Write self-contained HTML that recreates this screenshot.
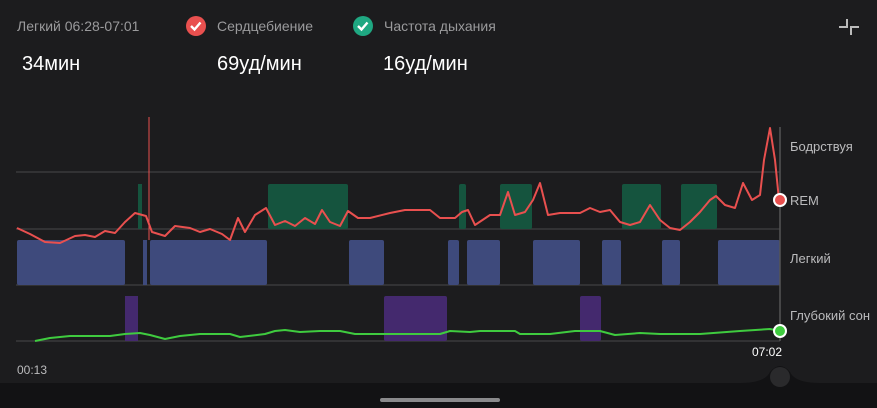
<!DOCTYPE html>
<html><head><meta charset="utf-8"><style>
body{margin:0;width:877px;height:408px;background:#1c1c1e;overflow:hidden;font-family:"Liberation Sans",sans-serif}
svg{position:absolute;left:0;top:0}
</style></head><body>
<svg width="877" height="408" viewBox="0 0 877 408" font-family="Liberation Sans, sans-serif">
<rect width="877" height="408" fill="#1c1c1e"/>
<text x="17" y="31" fill="#9a9a9c" font-size="14">Легкий  06:28-07:01</text>
<circle cx="196" cy="26" r="10" fill="#e9504f"/>
<path d="M191 26 l3.5 3.5 l6 -7" stroke="#fff" stroke-width="2.4" fill="none"/>
<text x="217" y="31" fill="#9a9a9c" font-size="14">Сердцебиение</text>
<circle cx="363" cy="26" r="10" fill="#1fa882"/>
<path d="M358 26 l3.5 3.5 l6 -7" stroke="#fff" stroke-width="2.4" fill="none"/>
<text x="384" y="31" fill="#9a9a9c" font-size="14">Частота дыхания</text>
<text x="22" y="70" fill="#fff" font-size="20">34мин</text>
<text x="217" y="70" fill="#fff" font-size="20">69уд/мин</text>
<text x="383" y="70" fill="#fff" font-size="20">16уд/мин</text>
<path d="M839 27 h8 v-8 M851 35 v-8 h8" stroke="#bbb" stroke-width="2" fill="none"/>
<g stroke="#3a3a3c" stroke-width="1.5"><line x1="16" y1="172" x2="780" y2="172"/><line x1="16" y1="229" x2="780" y2="229"/><line x1="16" y1="285" x2="780" y2="285"/><line x1="16" y1="341" x2="780" y2="341"/></g>
<g fill="#3e4a7c">
<rect x="17" y="240" width="108" height="45" rx="2"/><rect x="143" y="240" width="4" height="45"/><rect x="150" y="240" width="117" height="45" rx="2"/><rect x="349" y="240" width="35" height="45" rx="2"/><rect x="448" y="240" width="11" height="45" rx="2"/><rect x="467" y="240" width="33" height="45" rx="2"/><rect x="533" y="240" width="47" height="45" rx="2"/><rect x="602" y="240" width="19" height="45" rx="2"/><rect x="662" y="240" width="18" height="45" rx="2"/><rect x="718" y="240" width="62" height="45" rx="2"/>
</g>
<g fill="#15543e">
<rect x="138" y="184" width="4" height="45"/><rect x="268" y="184" width="80" height="45" rx="2"/><rect x="459" y="184" width="7" height="45" rx="2"/><rect x="500" y="184" width="32" height="45" rx="2"/><rect x="622" y="184" width="39" height="45" rx="2"/><rect x="681" y="184" width="36" height="45" rx="2"/>
</g>
<g fill="#44296e">
<rect x="125" y="296" width="13" height="45"/><rect x="384" y="296" width="63" height="45" rx="2"/><rect x="580" y="296" width="21" height="45" rx="2"/>
</g>
<line x1="780" y1="127" x2="780" y2="341" stroke="#555" stroke-width="1.5"/>
<line x1="149" y1="117" x2="149" y2="240" stroke="#e9504f" stroke-width="1"/>
<polyline fill="none" stroke="#e9504f" stroke-width="2" stroke-linejoin="round" points="17,228 30,234 45,242 60,243 75,236 85,235 95,237 105,231 115,233 125,222 135,213 146,216 152,232 165,236 175,226 190,228 200,232 210,229 222,234 230,240 238,218 245,232 255,215 266,208 275,225 285,221 295,226 305,218 315,224 322,210 330,222 340,226 348,211 358,218 370,218 390,213 405,210 430,210 440,218 455,218 462,212 468,210 475,225 490,215 500,215 508,192 515,215 525,212 533,200 540,183 548,215 560,213 580,213 590,208 600,212 610,210 620,222 630,225 640,222 650,205 660,220 670,228 680,230 690,222 700,212 710,200 716,196 725,205 735,208 743,183 752,200 760,195 764,160 770,128 775,160 779,200"/>
<polyline fill="none" stroke="#3fcb3f" stroke-width="2" stroke-linejoin="round" points="35,341 50,338 70,336 90,336 110,336 125,334 140,333 150,335 165,339 180,336 200,334 230,334 240,337 265,334 275,331 285,330 300,332 320,331 340,331 355,334 380,334 440,334 450,331 470,332 480,331 515,331 520,334 550,334 575,331 600,331 615,335 640,333 660,334 700,334 740,331 770,329 780,331"/>
<circle cx="780" cy="200" r="6" fill="#e9504f" stroke="#fff" stroke-width="2"/>
<circle cx="780" cy="331" r="6" fill="#3fcb3f" stroke="#fff" stroke-width="2"/>
<g fill="#bbbbbd" font-size="13">
<text x="790" y="151">Бодрствуя</text><text x="790" y="205">REM</text><text x="790" y="263">Легкий</text><text x="790" y="320">Глубокий сон</text>
</g>
<text x="17" y="374" fill="#bbbbbd" font-size="12">00:13</text>
<text x="782" y="356" fill="#fff" font-size="12" text-anchor="end">07:02</text>
<rect x="0" y="383" width="877" height="25" fill="#121214"/>
<path d="M740 383 Q765 383 770 372 Q780 360 790 372 Q795 383 820 383 Z" fill="#121214"/>
<circle cx="780" cy="377" r="10" fill="#2a2a2c"/>
<rect x="380" y="398" width="120" height="4" rx="2" fill="#8a8a8c"/>
</svg>
</body></html>
